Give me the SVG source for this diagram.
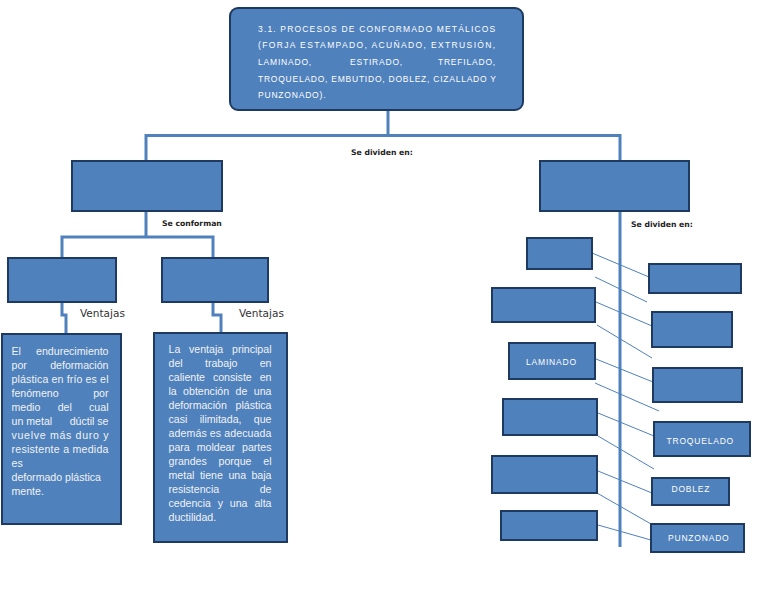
<svg xmlns="http://www.w3.org/2000/svg" width="768" height="594" viewBox="0 0 768 594">
<style>
.box{fill:#4f81bd;stroke:#1f3a60;stroke-width:2}
.conn{fill:none;stroke:#4f81bd;stroke-width:3}
.thin{fill:none;stroke:#4f81bd;stroke-width:1}
.tt{font-family:"Liberation Sans",Arial,sans-serif;font-size:8.5px;fill:#ffffff;letter-spacing:0.8px}
.bt{font-family:"Liberation Sans",Arial,sans-serif;font-size:10.6px;fill:#f2f2f2}
.lab{font-family:"DejaVu Sans",sans-serif;font-size:7.7px;font-weight:bold;fill:#222222}
.ven{font-family:"DejaVu Sans",sans-serif;font-size:10.5px;fill:#333333}
</style>
<rect width="768" height="594" fill="#ffffff"/>
<g id="connectors">
<path class="conn" d="M388,110 V135.5 M146,161 V135.5 H620 V547"/>
<path class="conn" d="M146,211 V237 M62,258 V237 H213 V258"/>
<path class="conn" d="M62,302 V315 H66 V334"/>
<path class="conn" d="M213,302 V315 H221 V333"/>
<path class="thin" d="M592,253 L649,277 M595,277 L647,302 M596,302 L652,326 M597,325 L652,358 M596,359 L653,382 M595,383 L659,411 M598,413 L654,436 M598,436 L654,469 M598,471 L652,493 M597,493 L651,524 M598,525 L651,540"/>
</g>
<g id="labels">
<text class="lab" x="351" y="155">Se dividen en:</text>
<text class="lab" x="162" y="225.5">Se conforman</text>
<text class="lab" x="631" y="226.5">Se dividen en:</text>
<text class="ven" x="80" y="316.5">Ventajas</text>
<text class="ven" x="239" y="316.5">Ventajas</text>
</g>
<g id="root">
<rect class="box" x="230" y="8" width="293" height="102" rx="8"/>
<text class="tt" x="258" y="31.5" textLength="238" lengthAdjust="spacing">3.1. PROCESOS DE CONFORMADO METÁLICOS</text>
<text class="tt" x="258" y="48.2" textLength="238" lengthAdjust="spacing">(FORJA ESTAMPADO, ACUÑADO, EXTRUSIÓN,</text>
<text class="tt" y="65"><tspan x="258">LAMINADO,</tspan><tspan x="350">ESTIRADO,</tspan><tspan x="496" text-anchor="end">TREFILADO,</tspan></text>
<text class="tt" x="258" y="81.6" textLength="238" lengthAdjust="spacing" style="letter-spacing:0">TROQUELADO, EMBUTIDO, DOBLEZ, CIZALLADO Y</text>
<text class="tt" x="258" y="98.3">PUNZONADO).</text>
</g>
<g id="left">
<rect class="box" x="72" y="161" width="150" height="50"/>
</g>
<g id="left-a">
<rect class="box" x="8" y="258" width="108" height="44"/>
</g>
<g id="left-b">
<rect class="box" x="162" y="258" width="106" height="44"/>
</g>
<g id="text-a">
<rect class="box" x="2" y="334" width="119" height="190"/>
<text class="bt" y="355"><tspan x="11.5">El</tspan><tspan x="108.5" text-anchor="end">endurecimiento</tspan></text>
<text class="bt" y="369"><tspan x="11.5">por</tspan><tspan x="108.5" text-anchor="end">deformación</tspan></text>
<text class="bt" x="11.5" y="383" textLength="97" lengthAdjust="spacing">plástica en frío es el</text>
<text class="bt" y="397"><tspan x="11.5">fenómeno</tspan><tspan x="108.5" text-anchor="end">por</tspan></text>
<text class="bt" y="411"><tspan x="11.5">medio</tspan><tspan x="57.7">del</tspan><tspan x="108.5" text-anchor="end">cual</tspan></text>
<text class="bt" y="425"><tspan x="11.5">un metal</tspan><tspan x="108.5" text-anchor="end">dúctil se</tspan></text>
<text class="bt" x="11.5" y="439" textLength="97" lengthAdjust="spacing">vuelve más duro y</text>
<text class="bt" x="11.5" y="453" textLength="97" lengthAdjust="spacing">resistente a medida</text>
<text class="bt" x="11.5" y="467">es</text>
<text class="bt" x="11.5" y="481">deformado plástica</text>
<text class="bt" x="11.5" y="495">mente.</text>
</g>
<g id="text-b">
<rect class="box" x="154" y="333" width="133" height="209"/>
<text class="bt" y="353"><tspan x="168.5">La</tspan><tspan x="189">ventaja</tspan><tspan x="271.5" text-anchor="end">principal</tspan></text>
<text class="bt" y="367"><tspan x="168.5">del</tspan><tspan x="205">trabajo</tspan><tspan x="271.5" text-anchor="end">en</tspan></text>
<text class="bt" y="381"><tspan x="168.5">caliente</tspan><tspan x="212.9">consiste</tspan><tspan x="271.5" text-anchor="end">en</tspan></text>
<text class="bt" y="395"><tspan x="168.5">la</tspan><tspan x="183.1">obtención</tspan><tspan x="235.5">de</tspan><tspan x="271.5" text-anchor="end">una</tspan></text>
<text class="bt" y="409"><tspan x="168.5">deformación</tspan><tspan x="271.5" text-anchor="end">plástica</tspan></text>
<text class="bt" y="423"><tspan x="168.5">casi</tspan><tspan x="199.7">ilimitada,</tspan><tspan x="271.5" text-anchor="end">que</tspan></text>
<text class="bt" x="168.5" y="437" textLength="103" lengthAdjust="spacing">además es adecuada</text>
<text class="bt" y="451"><tspan x="168.5">para</tspan><tspan x="196.7">moldear</tspan><tspan x="271.5" text-anchor="end">partes</tspan></text>
<text class="bt" y="465"><tspan x="168.5">grandes</tspan><tspan x="218.5">porque</tspan><tspan x="271.5" text-anchor="end">el</tspan></text>
<text class="bt" y="479"><tspan x="168.5">metal</tspan><tspan x="199.9">tiene</tspan><tspan x="228.4">una</tspan><tspan x="271.5" text-anchor="end">baja</tspan></text>
<text class="bt" y="493"><tspan x="168.5">resistencia</tspan><tspan x="271.5" text-anchor="end">de</tspan></text>
<text class="bt" y="507"><tspan x="168.5">cedencia</tspan><tspan x="217.7">y</tspan><tspan x="229.8">una</tspan><tspan x="271.5" text-anchor="end">alta</tspan></text>
<text class="bt" x="168.5" y="521">ductilidad.</text>
</g>
<g id="right">
<rect class="box" x="540" y="161" width="149" height="50"/>
</g>
<g id="r-l1"><rect class="box" x="527" y="238" width="65" height="31"/></g>
<g id="r-l2"><rect class="box" x="492" y="288" width="103" height="34"/></g>
<g id="r-l3"><rect class="box" x="509" y="343" width="86" height="36"/><text class="tt" x="526" y="365">LAMINADO</text></g>
<g id="r-l4"><rect class="box" x="503" y="399" width="94" height="36"/></g>
<g id="r-l5"><rect class="box" x="492" y="456" width="105" height="37"/></g>
<g id="r-l6"><rect class="box" x="501" y="511" width="96" height="29"/></g>
<g id="r-r1"><rect class="box" x="649" y="264" width="92" height="29"/></g>
<g id="r-r2"><rect class="box" x="652" y="312" width="80" height="35"/></g>
<g id="r-r3"><rect class="box" x="653" y="368" width="89" height="34"/></g>
<g id="r-r4"><rect class="box" x="654" y="422" width="96" height="34"/><text class="tt" x="666.5" y="444">TROQUELADO</text></g>
<g id="r-r5"><rect class="box" x="652" y="478" width="77" height="27"/><text class="tt" x="671.5" y="491.5">DOBLEZ</text></g>
<g id="r-r6"><rect class="box" x="651" y="524" width="93" height="28"/><text class="tt" x="668" y="540.5">PUNZONADO</text></g>
</svg>
